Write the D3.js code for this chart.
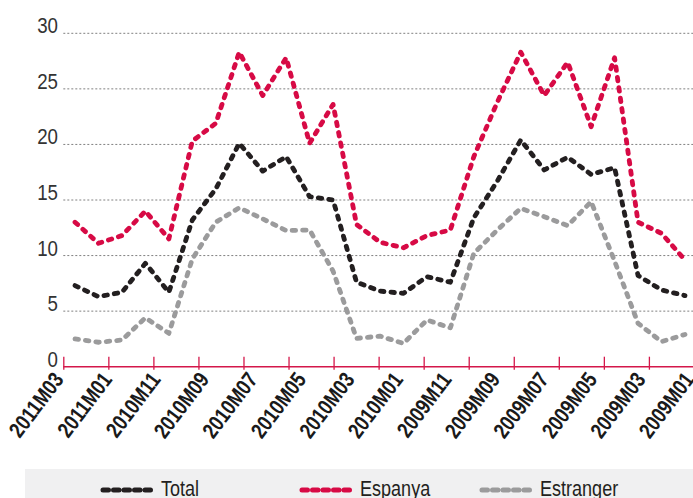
<!DOCTYPE html>
<html>
<head>
<meta charset="utf-8">
<script src="https://cdn.jsdelivr.net/npm/d3@7"></script>
<style>
  html, body { margin: 0; padding: 0; background: #ffffff; }
  svg { display: block; }
</style>
</head>
<body>
<svg id="chart" width="693" height="498"></svg>
<script>
// ---- Data ----
const months = [
  "2011M03","2011M02","2011M01","2010M12","2010M11","2010M10","2010M09","2010M08","2010M07",
  "2010M06","2010M05","2010M04","2010M03","2010M02","2010M01","2009M12","2009M11","2009M10",
  "2009M09","2009M08","2009M07","2009M06","2009M05","2009M04","2009M03","2009M02","2009M01"
];
const total = [7.3, 6.3, 6.7, 9.3, 6.7, 13.2, 16.0, 20.1, 17.6, 18.9, 15.3, 15.0, 7.6, 6.8, 6.6,
               8.1, 7.6, 13.4, 16.7, 20.4, 17.7, 18.85, 17.3, 17.9, 8.2, 6.9, 6.4];
const espanya = [13.0, 11.1, 11.8, 14.0, 11.5, 20.3, 21.9, 28.3, 24.4, 27.8, 20.1, 23.6, 12.8, 11.2, 10.7,
                 11.8, 12.3, 18.9, 23.8, 28.3, 24.4, 27.4, 21.6, 27.8, 13.0, 12.0, 9.6];
const estranger = [2.5, 2.2, 2.4, 4.4, 3.0, 9.7, 13.0, 14.3, 13.3, 12.25, 12.3, 8.6, 2.55, 2.75, 2.1,
                   4.2, 3.5, 10.2, 12.3, 14.25, 13.5, 12.7, 14.85, 9.5, 3.9, 2.25, 2.9];
const tickLabels = ["2011M03","2011M01","2010M11","2010M09","2010M07","2010M05","2010M03",
                    "2010M01","2009M11","2009M09","2009M07","2009M05","2009M03","2009M01"];
const yTicks = [0, 5, 10, 15, 20, 25, 30];
const seriesNames = ["Total", "Espanya", "Estranger"];
const seriesColors = ["#231f20", "#d70a45", "#9b9b9c"];

const series = [
  { name: seriesNames[0], values: total, color: seriesColors[0] },
  { name: seriesNames[1], values: espanya, color: seriesColors[1] },
  { name: seriesNames[2], values: estranger, color: seriesColors[2] }
];

// ---- Layout ----
const svg = d3.select("#chart");
const W = 693;
const plotLeft = 63.3, plotRight = 693;
const y = d3.scaleLinear().domain([0, 30]).range([366.7, 33.3]);
const x = d3.scalePoint().domain(months).range([plotLeft, 696.7]).padding(0.5);
const xt = d3.scalePoint().domain(tickLabels).range([plotLeft, 648.9]);   // tick marks
const xl = d3.scalePoint().domain(tickLabels).range([64.5, 695]);        // label anchors

const sans = "'Liberation Sans', Arial, sans-serif";

// Gridlines
svg.append("g").selectAll("line")
  .data(yTicks.filter(d => d > 0))
  .join("line")
  .attr("x1", plotLeft).attr("x2", plotRight)
  .attr("y1", d => y(d)).attr("y2", d => y(d))
  .attr("stroke", "#808080")
  .attr("stroke-width", 1)
  .attr("stroke-dasharray", "2,2");

// Y labels (horizontally condensed)
svg.append("g").selectAll("text")
  .data(yTicks)
  .join("text")
  .attr("transform", d => `translate(58,${y(d)}) scale(0.85,1)`)
  .attr("text-anchor", "end")
  .attr("font-family", sans)
  .attr("font-size", 22)
  .attr("fill", "#333333")
  .text(d => d);

// X axis (tick marks)
const axisY = y(0);
const xAxis = d3.axisBottom(xt).tickSizeInner(3).tickSizeOuter(0).tickFormat("");
const gx = svg.append("g").attr("transform", `translate(0,${axisY})`).call(xAxis);
gx.select(".domain").remove();
gx.selectAll(".tick line")
  .attr("y1", -10).attr("y2", 3)
  .attr("stroke", "#d4174a").attr("stroke-width", 1.3);
gx.selectAll(".tick text").remove();
svg.append("line")
  .attr("x1", plotLeft).attr("x2", plotRight)
  .attr("y1", axisY).attr("y2", axisY)
  .attr("stroke", "#d4174a").attr("stroke-width", 1.5);

// X labels
svg.append("g").selectAll("text")
  .data(tickLabels)
  .join("text")
  .attr("text-anchor", "end")
  .attr("transform", d => `translate(${xl(d)},${axisY + 13}) rotate(-53) scale(0.82,1)`)
  .attr("font-family", sans)
  .attr("font-weight", "bold")
  .attr("font-size", 22)
  .attr("fill", "#1a1a1a")
  .text(d => d);

// Lines
const line = d3.line().x((d, i) => x(months[i])).y(d => y(d));
svg.append("g").selectAll("path")
  .data(series.slice().reverse())
  .join("path")
  .attr("d", d => line(d.values))
  .attr("fill", "none")
  .attr("stroke", d => d.color)
  .attr("stroke-width", 4.8)
  .attr("stroke-linecap", "round")
  .attr("stroke-linejoin", "round")
  .attr("stroke-dasharray", "3.5,7");

// Legend
svg.append("rect")
  .attr("x", 25).attr("y", 469)
  .attr("width", W - 25).attr("height", 40)
  .attr("fill", "#f0f0f1");
const legendX = [101, 300, 480];
const lg = svg.append("g").selectAll("g")
  .data(series)
  .join("g")
  .attr("transform", (d, i) => `translate(${legendX[i]},0)`);
lg.append("line")
  .attr("x1", 2).attr("x2", 51)
  .attr("y1", 490).attr("y2", 490)
  .attr("stroke", d => d.color)
  .attr("stroke-width", 5)
  .attr("stroke-linecap", "round")
  .attr("stroke-dasharray", "5.5,5");
lg.append("text")
  .attr("transform", "translate(60,496) scale(0.82,1)")
  .attr("font-family", sans)
  .attr("font-size", 22)
  .attr("fill", "#231f20")
  .text(d => d.name);
</script>
</body>
</html>
